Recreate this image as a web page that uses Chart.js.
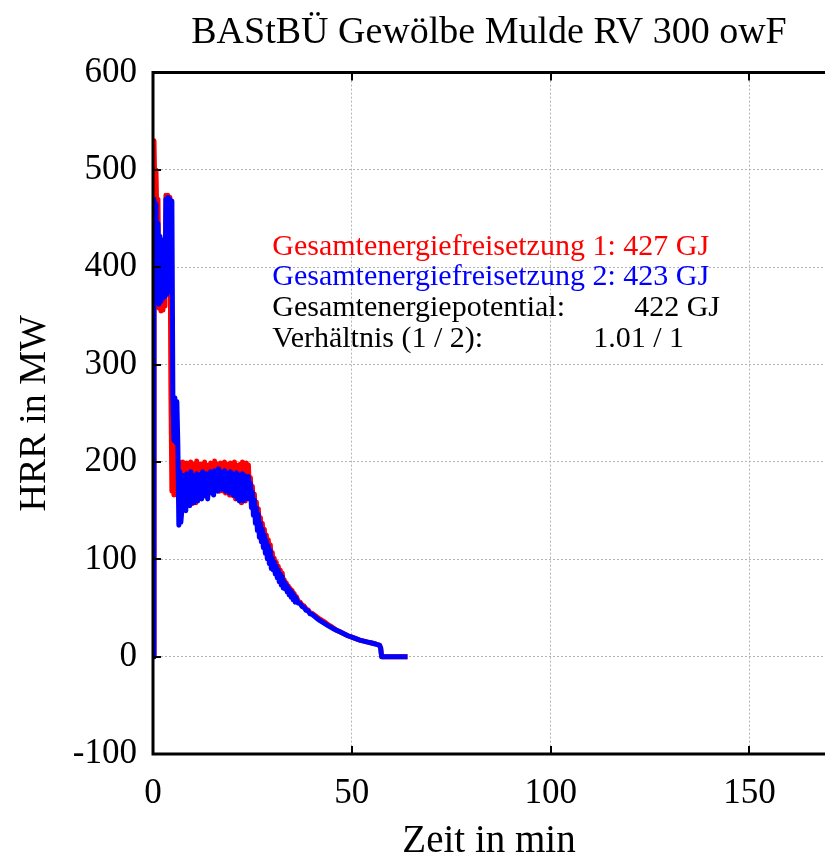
<!DOCTYPE html>
<html>
<head>
<meta charset="utf-8">
<script src="https://cdn.jsdelivr.net/npm/chart.js@4.4.1/dist/chart.umd.min.js"></script>
<style>
  html, body { margin: 0; padding: 0; background: #fff; }
  #wrap { width: 825px; height: 857px; }
</style>
</head>
<body>
<div id="wrap"><canvas id="hrrChart" width="825" height="857"></canvas></div>
<script>
// Zeit in min (shared by both curves)
const zeitMin = [
  0, 0.25, 0.5, 0.75, 1, 1.25, 1.5, 1.75, 2, 2.25, 2.5, 2.75, 3, 3.25, 3.5, 3.75,
  4, 4.25, 4.5, 4.75, 5, 5.25, 5.5, 5.75, 6, 6.25, 6.5, 6.75, 7, 7.25, 7.5, 7.75,
  8, 8.25, 8.5, 8.75, 9, 9.25, 9.5, 9.75, 10, 10.25, 10.5, 10.75, 11, 11.25, 11.5, 11.75,
  12, 12.25, 12.5, 12.75, 13, 13.25, 13.5, 13.75, 14, 14.25, 14.5, 14.75, 15, 15.25, 15.5, 15.75,
  16, 16.25, 16.5, 16.75, 17, 17.25, 17.5, 17.75, 18, 18.25, 18.5, 18.75, 19, 19.25, 19.5, 19.75,
  20, 20.25, 20.5, 20.75, 21, 21.25, 21.5, 21.75, 22, 22.25, 22.5, 22.75, 23, 23.25, 23.5, 23.75, 24,
  24.25, 24.5, 24.75, 25, 25.25, 25.5, 25.75, 26, 26.25, 26.5, 26.75, 27, 27.25, 27.5, 27.75, 28,
  28.25, 28.5, 28.75, 29, 29.25, 29.5, 29.75, 30, 30.25, 30.5, 30.75, 31, 31.25, 31.5, 31.75, 32,
  32.25, 32.5, 32.75, 33, 33.25, 33.5, 33.75, 34, 34.25, 34.5, 34.75, 35, 35.25, 35.5, 35.75, 36,
  36.5, 37, 37.5, 38, 38.5, 39, 39.5, 40,
  41, 42, 43, 44, 45, 46, 47, 48, 49, 50, 51, 52, 53, 54, 55, 56, 57,
  57.25, 57.5, 58, 60, 62, 64
];
// HRR in MW, curve 1 (red)
const hrr1 = [
  0, 530, 470, 500, 445, 470, 358, 430, 355, 420, 356, 415, 360, 474, 400, 474,
  400, 472, 275, 170, 265, 166, 235, 168, 215, 165, 200, 165, 198, 162, 200, 160,
  197, 160, 199, 158, 195, 165, 200, 157, 196, 160, 198, 158, 201, 163, 195, 165,
  198, 170, 196, 166, 200, 168, 197, 172, 195, 170, 199, 168, 196, 172, 201, 175,
  198, 172, 196, 170, 199, 173, 197, 170, 200, 168, 195, 170, 198, 166, 199, 168,
  196, 165, 200, 162, 197, 163, 195, 160, 198, 158, 200, 162, 196, 160, 199, 165, 197,
  168, 184, 159, 175, 151, 167, 143, 159, 135.5, 152, 128.5, 143, 124, 137, 118, 131,
  112, 125, 106.5, 120, 101.5, 115, 96.5, 107, 93, 101, 89, 97, 85, 93, 81, 89,
  77.5, 86, 74.5, 79, 71.5, 76, 68.5, 73, 65.5, 70, 63, 68, 60.5, 65, 58, 62,
  57, 56, 53, 52, 49, 48, 45, 44.5,
  41.5, 38.5, 36, 33, 30.5, 27.5, 25.5, 23.5, 21.5, 20, 18.5, 17, 16, 15, 14, 13, 11.5,
  9, 0, 0, 0, 0, 0
];
// HRR in MW, curve 2 (blue)
const hrr2 = [
  0, 470, 380, 465, 365, 445, 362, 432, 365, 428, 368, 425, 370, 470, 372, 472,
  375, 470, 375, 468, 268, 222, 266, 220, 262, 218, 135, 190, 138, 150, 186, 155,
  186, 150, 188, 158, 184, 155, 190, 160, 185, 158, 186, 162, 188, 160, 184, 165,
  187, 162, 190, 168, 185, 165, 188, 162, 186, 168, 190, 170, 188, 166, 191, 172,
  189, 170, 193, 175, 190, 172, 188, 174, 191, 170, 189, 172, 187, 168, 190, 170,
  188, 166, 186, 165, 189, 162, 187, 160, 185, 164, 188, 160, 186, 162, 184, 165, 185,
  162, 178, 153, 169, 145, 161, 137, 153, 129.5, 146, 122.5, 137, 118, 131, 112, 125,
  106, 119, 100.5, 114, 95.5, 109, 90.5, 101, 89, 97, 85, 93, 81, 89, 77, 85,
  73.5, 82, 70.5, 77, 69.5, 74, 66.5, 71, 63.5, 68, 61, 66, 58.5, 63, 56, 60,
  55, 54.5, 51.5, 50.5, 47.5, 47, 44, 43.5,
  40, 37, 34.5, 32, 29.5, 27.5, 25.5, 23.5, 21.5, 20, 18.5, 17, 16, 15, 14, 13, 11.5,
  9, 0, 0, 0, 0, 0
];
const xTicks = [0, 50, 100, 150];
const yTicks = [-100, 0, 100, 200, 300, 400, 500, 600];

const infoLabels = ['Gesamtenergiefreisetzung 1: 427 GJ', 'Gesamtenergiefreisetzung 2: 423 GJ',
                    'Gesamtenergiepotential:', 'Verhältnis (1 / 2):'];
const infoValues = ['', '', '422 GJ', '1.01 / 1'];
const infoColors = ['#ff0000', '#0000ff', '#000000', '#000000'];

const FONT = "'Liberation Serif', 'Times New Roman', serif";

// frame, inward tick marks and text block
const framePlugin = {
  id: 'frame',
  afterDatasetsDraw(chart) {
    const { ctx, chartArea: a, scales: { x, y } } = chart;
    ctx.save();
    ctx.strokeStyle = '#000';
    ctx.lineWidth = 3;
    ctx.beginPath();
    ctx.moveTo(a.right + 5, a.top);
    ctx.lineTo(a.left, a.top);
    ctx.lineTo(a.left, a.bottom);
    ctx.lineTo(a.right + 5, a.bottom);
    ctx.stroke();

    ctx.lineWidth = 2;
    ctx.beginPath();
    yTicks.forEach(v => {
      const py = Math.round(y.getPixelForValue(v));
      ctx.moveTo(a.left, py); ctx.lineTo(a.left + 8, py);
    });
    xTicks.forEach(v => {
      const px = Math.round(x.getPixelForValue(v));
      ctx.moveTo(px, a.bottom); ctx.lineTo(px, a.bottom - 8);
      ctx.moveTo(px, a.top); ctx.lineTo(px, a.top + 8);
    });
    ctx.stroke();

    // info text
    ctx.font = '30px ' + FONT;
    ctx.textBaseline = 'alphabetic';
    const left = x.getPixelForValue(30);
    const base0 = y.getPixelForValue(413);
    infoLabels.forEach((txt, i) => {
      const by = base0 + i * 30.7;
      ctx.fillStyle = infoColors[i];
      ctx.textAlign = 'left';
      ctx.fillText(txt, left, by);
      if (infoValues[i]) {
        ctx.textAlign = 'right';
        ctx.fillText(infoValues[i], i === 2 ? 720 : 684, by);
      }
    });
    ctx.restore();
  }
};

const pts = arr => zeitMin.map((t, i) => ({ x: t, y: arr[i] }));

new Chart(document.getElementById('hrrChart'), {
  type: 'line',
  data: {
    datasets: [
      { label: 'HRR 2', data: pts(hrr2), borderColor: '#0000ff', borderWidth: 5,
        pointRadius: 0, borderJoinStyle: 'round', order: 0 },
      { label: 'HRR 1', data: pts(hrr1), borderColor: '#ff0000', borderWidth: 5,
        pointRadius: 0, borderJoinStyle: 'round', order: 1 }
    ]
  },
  options: {
    responsive: false,
    animation: false,
    layout: { padding: 0 },
    plugins: {
      legend: { display: false },
      tooltip: { enabled: false },
      title: {
        display: true, fullSize: false,
        text: 'BAStBÜ Gewölbe Mulde RV 300 owF',
        color: '#000',
        font: { family: FONT, size: 38, weight: 'normal' },
        padding: { top: 10, bottom: 17 }
      }
    },
    scales: {
      x: {
        type: 'linear', min: 0, max: 169,
        afterFit: s => { s.height = 103; },
        afterBuildTicks: s => { s.ticks = xTicks.map(v => ({ value: v })); },
        grid: { color: '#b4b4b4', lineWidth: 1, drawTicks: false },
        border: { display: false, dash: [2, 2] },
        ticks: { color: '#000', padding: 19, maxRotation: 0,
                 font: { family: FONT, size: 35 } },
        title: { display: true, text: 'Zeit in min', color: '#000',
                 font: { family: FONT, size: 39, lineHeight: 0.8 }, padding: { top: 0, bottom: 0 } }
      },
      y: {
        type: 'linear', min: -100, max: 600,
        afterFit: s => { s.width = 153; },
        afterBuildTicks: s => { s.ticks = yTicks.map(v => ({ value: v })); },
        grid: { color: '#b4b4b4', lineWidth: 1, drawTicks: false },
        border: { display: false, dash: [2, 2] },
        ticks: { color: '#000', padding: 16, font: { family: FONT, size: 35 } },
        title: { display: true, text: 'HRR in MW', color: '#000',
                 font: { family: FONT, size: 38 }, padding: { top: 12, bottom: 0 } }
      }
    }
  },
  plugins: [framePlugin]
});
</script>
</body>
</html>
